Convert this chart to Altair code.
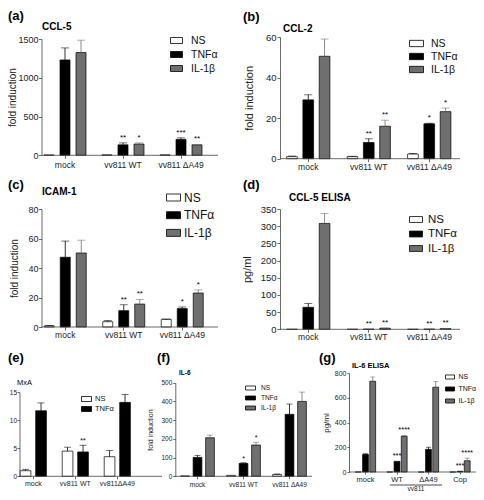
import altair as alt
import pandas as pd

FONT = "Liberation Sans"
NS_C, TNF_C, IL_C = "white", "black", "#6f6f6f"
W, H, OFF = 468, 484, 8

SER3 = ["NS", "TNFα", "IL-1β"]
SER2 = ["NS", "TNFα"]
GROUPS_3 = ["mock", "vv811 WT", "vv811 ΔA49"]
GROUPS_E = ["mock", "vv811 WT", "vv811ΔA49"]
GROUPS_G = ["mock", "WT", "ΔA49", "Cop"]

# (a) CCL-5
a_ns, a_ns_err = [4, 6, 6], [0, 0, 0]
a_tnf, a_tnf_err = [1230, 135, 205], [155, 25, 20]
a_il, a_il_err = [1325, 145, 135], [160, 15, 5]
a_ns_sig, a_tnf_sig, a_il_sig = ["", "", ""], ["", "**", "***"], ["", "*", "**"]

# (b) CCL-2
b_ns, b_ns_err = [1.0, 1.0, 2.3], [0.3, 0.2, 0.3]
b_tnf, b_tnf_err = [29, 8, 17.2], [2.5, 1.8, 0.3]
b_il, b_il_err = [50.5, 16, 23.2], [8.5, 3, 1.8]
b_ns_sig, b_tnf_sig, b_il_sig = ["", "", ""], ["", "**", "*"], ["", "**", "*"]

# (c) ICAM-1
c_ns, c_ns_err = [0.8, 3.6, 5.2], [0.3, 0.8, 0.2]
c_tnf, c_tnf_err = [47.4, 11.1, 12.5], [11, 4, 1.1]
c_il, c_il_err = [50.3, 15.6, 23.1], [8.7, 3.2, 2.1]
c_ns_sig, c_tnf_sig, c_il_sig = ["", "", ""], ["", "**", "*"], ["", "**", "*"]

# (d) CCL-5 ELISA
d_ns, d_ns_err = [0, 0, 0], [0, 0, 0]
d_tnf, d_tnf_err = [64, 0.5, 0.5], [11.5, 0, 0]
d_il, d_il_err = [308, 3, 2], [29, 1, 0.5]
d_ns_sig, d_tnf_sig, d_il_sig = ["", "", ""], ["", "**", "**"], ["", "**", "**"]

# (e) MxA
e_ns, e_ns_err = [1.0, 4.5, 3.5], [0.25, 0.7, 1.1]
e_tnf, e_tnf_err = [11.7, 4.35, 13.2], [1.4, 1.2, 1.4]
e_ns_sig, e_tnf_sig = ["", "", ""], ["", "**", ""]

# (f) IL-6
f_ns, f_ns_err = [2, 5, 10], [0, 0, 2]
f_tnf, f_tnf_err = [101, 69, 331], [11, 3, 55]
f_il, f_il_err = [206, 167, 400], [14, 15, 50]
f_ns_sig, f_tnf_sig, f_il_sig = ["", "", ""], ["", "*", ""], ["", "*", ""]

# (g) IL-6 ELISA
g_ns, g_ns_err = [0, 0, 0, 0], [0, 0, 0, 0]
g_tnf, g_tnf_err = [142, 86, 183, 6], [5, 0, 17, 0]
g_il, g_il_err = [733, 289, 685, 91], [35, 6, 45, 21]
g_ns_sig, g_tnf_sig, g_il_sig = ["", "", "", ""], ["", "***", "", "***"], ["", "****", "", "****"]


def frame(groups, series, vals, errs, sigs):
    rows = []
    for s, v, e, sg in zip(series, vals, errs, sigs):
        for g, vv, ee, ss in zip(groups, v, e, sg):
            rows.append(dict(group=g, series=s, value=vv, top=vv + ee, err=ee, sig=ss))
    return pd.DataFrame(rows)


def px(v):
    return v - OFF


def panel(df, P):
    groups, series = P["groups"], P["series"]
    n = len(groups)
    colors = [NS_C, TNF_C, IL_C][: len(series)]
    x = alt.X(
        "group:N", sort=groups,
        scale=alt.Scale(domain=groups, range=[px(P["start"]), px(P["start"] + n * P["step"])],
                        paddingInner=0, paddingOuter=0),
        axis=alt.Axis(title=None, orient="bottom", offset=-(H - px(P["ybot"])), labelAngle=0,
                      labelFontSize=P["xfs"], tickSize=P["tick"], labelPadding=P["xlp"],
                      domain=False, tickWidth=0.8),
    )
    xo = alt.XOffset("series:N", sort=series,
                     scale=alt.Scale(domain=series, paddingInner=P["opi"], paddingOuter=P["opo"]))
    ysc = alt.Scale(domain=[0, P["ymax"]], nice=False, zero=True, range=[px(P["ybot"]), px(P["ytop"])])
    yax = alt.Axis(orient="left", offset=-px(P["x0"]), values=P["yticks"], format="d",
                   title=P["ytitle"], titleFontSize=P["ytfs"], titlePadding=P["ytp"],
                   labelFontSize=P["ylfs"], tickSize=P["tick"], labelPadding=P["ylp"],
                   domainWidth=0.8, tickWidth=0.8)
    base = alt.Chart(df)
    legend = alt.Legend(
        orient="none", legendX=px(P["lgx"]), legendY=px(P["lgy"]), title=None,
        symbolType="M-1,-%sH1V%sH-1Z" % (P["hh"], P["hh"]), symbolSize=P["sym"] ** 2,
        symbolStrokeColor="black", symbolStrokeWidth=0.8, rowPadding=P["rowpad"],
        labelOffset=P["loff"], labelFontSize=P["lfs"], padding=0, labelColor="#111",
    )
    bars = base.mark_bar(stroke="black", strokeWidth=0.7).encode(
        x=x, xOffset=xo, y=alt.Y("value:Q", scale=ysc, axis=yax),
        color=alt.Color("series:N", sort=series, scale=alt.Scale(domain=series, range=colors), legend=legend),
    )
    ecol = alt.when(alt.datum.series == "IL-1β").then(alt.value(IL_C)).otherwise(alt.value("black"))
    errs = base.transform_filter("datum.err > 0")
    rule = errs.mark_rule(strokeWidth=0.8).encode(
        x=x, xOffset=xo, y=alt.Y("value:Q", scale=ysc, axis=yax), y2="top:Q", color=ecol)
    cap = errs.mark_tick(thickness=0.8, size=P["capw"]).encode(
        x=x, xOffset=xo, y=alt.Y("top:Q", scale=ysc, axis=yax), color=ecol)
    stars = base.transform_filter("datum.sig != ''").mark_text(
        baseline="bottom", dy=-1, fontSize=P["sfs"], font=FONT, color="black").encode(
        x=x, xOffset=xo, y=alt.Y("top:Q", scale=ysc, axis=yax), text="sig:N")
    lab = pd.DataFrame({"t": [P["letter"]], "g": [P["title"]]})
    baseline = alt.Chart(lab).mark_rule(color="#444", strokeWidth=0.8).encode(
        x=alt.value(px(P["x0"])), x2=alt.value(px(P["x1"])), y=alt.value(px(P["ybot"])))
    letter = alt.Chart(lab).mark_text(
        align="left", baseline="middle", fontSize=13, fontWeight="bold", font=FONT, color="black").encode(
        x=alt.value(px(P["lx"])), y=alt.value(px(P["ly"])), text="t:N")
    title = alt.Chart(lab).mark_text(
        align="left", baseline="middle", fontSize=P["tfs"], fontWeight=P["tfw"], font=FONT, color="black").encode(
        x=alt.value(px(P["tx"])), y=alt.value(px(P["ty"])), text="g:N")
    layers = [bars, rule, cap, stars, baseline, letter, title] + P.get("extra", [])
    return alt.layer(*layers)


common = dict(series=SER3, groups=GROUPS_3, tick=3, xlp=0.5, ylp=1, xfs=8.5, ylfs=9.5, ytfs=11,
              capw=8, sfs=8, tfs=10, tfw="bold")

pa = panel(frame(GROUPS_3, SER3, [a_ns, a_tnf, a_il], [a_ns_err, a_tnf_err, a_il_err],
                 [a_ns_sig, a_tnf_sig, a_il_sig]),
           dict(common, start=36, step=58, opi=0.375, opo=0.5, x0=41.5, x1=218, ytop=39, ybot=155.3,
                ymax=1500, yticks=[0, 500, 1000, 1500], ytitle="fold induction", ytfs=10, ytp=0,
                ylfs=9, ylp=0.5, xlp=2,
                letter="(a)", lx=8, ly=16, title="CCL-5", tx=42, ty=27,
                lgx=170, lgy=34, sym=12, hh=0.5, rowpad=2, loff=8, lfs=10.5))

pb = panel(frame(GROUPS_3, SER3, [b_ns, b_tnf, b_il], [b_ns_err, b_tnf_err, b_il_err],
                 [b_ns_sig, b_tnf_sig, b_il_sig]),
           dict(common, start=278, step=60.5, opi=0.344, opo=0.527, x0=280, x1=460, ytop=37, ybot=158.7,
                ymax=60, yticks=[0, 20, 40, 60], ytitle="fold induction", ytp=11,
                letter="(b)", lx=243, ly=16.5, title="CCL-2", tx=283, ty=29,
                lgx=409, lgy=36, sym=14, hh=0.45, rowpad=0, loff=7, lfs=10.5))

pc = panel(frame(GROUPS_3, SER3, [c_ns, c_tnf, c_il], [c_ns_err, c_tnf_err, c_il_err],
                 [c_ns_sig, c_tnf_sig, c_il_sig]),
           dict(common, start=36, step=58.5, opi=0.375, opo=0.516, x0=41.5, x1=218, ytop=209.3, ybot=327,
                ymax=80, yticks=[0, 20, 40, 60, 80], ytitle="fold induction", ytfs=10, ytp=8,
                ylfs=9, ylp=0.5,
                letter="(c)", lx=8, ly=185, title="ICAM-1", tx=42, ty=192,
                lgx=166, lgy=190, sym=14, hh=0.5, rowpad=3.7, loff=3, lfs=12))

pd_ = panel(frame(GROUPS_3, SER3, [d_ns, d_tnf, d_il], [d_ns_err, d_tnf_err, d_il_err],
                  [d_ns_sig, d_tnf_sig, d_il_sig]),
            dict(common, start=278, step=60.5, opi=0.344, opo=0.527, x0=280, x1=460, ytop=209, ybot=329.3,
                 ymax=350, yticks=[0, 50, 100, 150, 200, 250, 300, 350], ytitle="pg/ml", ytp=8,
                 letter="(d)", lx=243, ly=185, title="CCL-5 ELISA", tx=289, ty=198,
                 lgx=409, lgy=212.5, sym=13, hh=0.45, rowpad=1.5, loff=5, lfs=11.5))

pe = panel(frame(GROUPS_E, SER2, [e_ns, e_tnf], [e_ns_err, e_tnf_err], [e_ns_sig, e_tnf_sig]),
           dict(common, series=SER2, groups=GROUPS_E, start=12.3, step=42, opi=0.31, opo=0.51,
                x0=19.5, x1=162, ytop=392.3, ybot=476.3, ymax=15, yticks=[0, 5, 10, 15],
                ytitle=None, ytfs=7, ytp=0, ylfs=6.5, ylp=0.5, xfs=7, tick=2.5, xlp=1, capw=7, sfs=7,
                letter="(e)", lx=8, ly=358, title="MxA", tx=17, ty=383, tfs=7.5, tfw="normal",
                lgx=81, lgy=393.5, sym=10, hh=0.5, rowpad=0, loff=3, lfs=7.5))

pf = panel(frame(GROUPS_3, SER3, [f_ns, f_tnf, f_il], [f_ns_err, f_tnf_err, f_il_err],
                 [f_ns_sig, f_tnf_sig, f_il_sig]),
           dict(common, start=174.5, step=46, opi=0.30, opo=0.49, x0=175.3, x1=312,
                ytop=382.7, ybot=476.3, ymax=500, yticks=[0, 100, 200, 300, 400, 500],
                ytitle="fold induction", ytfs=7, ytp=7, ylfs=6.5, xfs=6.5, tick=2.5, xlp=3, capw=6, sfs=7,
                letter="(f)", lx=157, ly=358, title="IL-6", tx=179, ty=373, tfs=6.5,
                lgx=245, lgy=382.5, sym=10, hh=0.4, rowpad=0, loff=5, lfs=6.5))

vv_label = pd.DataFrame({"t": ["vv811"]})
g_extra = [
    alt.Chart(vv_label).mark_rule(color="black", strokeWidth=0.7).encode(
        x=alt.value(px(390)), x2=alt.value(px(442)), y=alt.value(px(485))),
    alt.Chart(vv_label).mark_text(fontSize=6.5, font=FONT, baseline="middle", color="#222").encode(
        x=alt.value(px(416)), y=alt.value(px(488.5)), text="t:N"),
]
pg = panel(frame(GROUPS_G, SER3, [g_ns, g_tnf, g_il], [g_ns_err, g_tnf_err, g_il_err],
                 [g_ns_sig, g_tnf_sig, g_il_sig]),
           dict(common, groups=GROUPS_G, start=349.75, step=31.5, opi=0.19, opo=0.78, x0=349, x1=476,
                ytop=373, ybot=472, ymax=800, yticks=[0, 200, 400, 600, 800],
                ytitle="pg/ml", ytfs=8, ytp=4, ylfs=7, xfs=7.5, tick=2, xlp=1, capw=5, sfs=7.5,
                letter="(g)", lx=319, ly=358, title="IL-6 ELISA", tx=352, ty=366, tfs=7.5,
                lgx=445, lgy=372, sym=9, hh=0.45, rowpad=3, loff=3.5, lfs=7, extra=g_extra))

chart = (
    alt.layer(pa, pb, pc, pd_, pe, pf, pg)
    .resolve_scale(x="independent", y="independent", color="independent", xOffset="independent")
    .resolve_axis(x="independent", y="independent")
    .resolve_legend(color="independent")
    .properties(width=W, height=H, padding=0, autosize=alt.AutoSizeParams(type="none"))
    .configure(font=FONT)
    .configure_view(stroke=None)
    .configure_axis(grid=False, labelFont=FONT, titleFont=FONT, domainColor="#444", tickColor="#444",
                    labelColor="#222", titleColor="#222", titleFontWeight="normal")
    .configure_legend(labelFont=FONT)
)

chart.save("out.html", embed_options={"renderer": "svg", "actions": False})
